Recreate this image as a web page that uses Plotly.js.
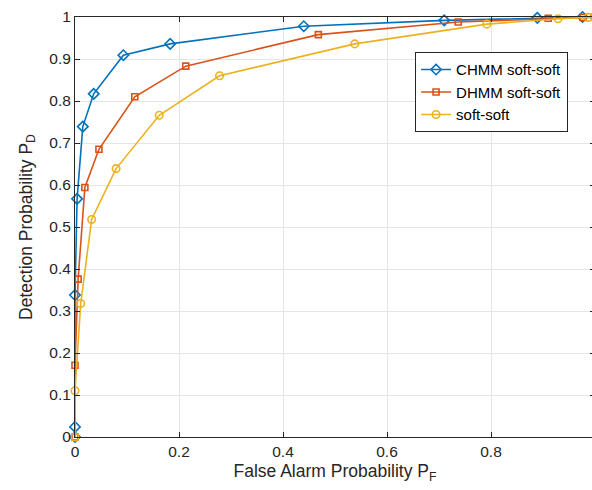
<!DOCTYPE html>
<html>
<head>
<meta charset="utf-8">
<script src="https://cdn.plot.ly/plotly-3.0.1.min.js"></script>
<style>
html, body { margin: 0; padding: 0; background: #fff; }
#wrap { width: 592px; height: 490px; overflow: hidden; position: relative; }
#chart { width: 600px; height: 490px; }
</style>
</head>
<body>
<div id="wrap"><div id="chart"></div></div>
<script>
// Data
const seriesNames = ["CHMM soft-soft", "DHMM soft-soft", "soft-soft"];
const chmmPf = [0, 0, 0, 0.004, 0.015, 0.036, 0.093, 0.183, 0.440, 0.710, 0.889, 0.976, 1.0];
const chmmPd = [0, 0.024, 0.338, 0.567, 0.739, 0.817, 0.909, 0.936, 0.978, 0.992, 0.998, 1.0, 1.0];
const dhmmPf = [0, 0, 0.006, 0.019, 0.046, 0.115, 0.213, 0.468, 0.737, 0.910, 0.977, 1.0];
const dhmmPd = [0, 0.171, 0.376, 0.594, 0.685, 0.810, 0.883, 0.958, 0.988, 0.997, 0.999, 1.0];
const softPf = [0, 0, 0.011, 0.032, 0.079, 0.162, 0.278, 0.538, 0.792, 0.929, 0.987, 1.0];
const softPd = [0, 0.110, 0.318, 0.518, 0.639, 0.766, 0.860, 0.936, 0.983, 0.996, 0.999, 1.0];
const xTicks = [0, 0.2, 0.4, 0.6, 0.8];
const xTickText = ["0", "0.2", "0.4", "0.6", "0.8"];
const yTicks = [0, 0.1, 0.2, 0.3, 0.4, 0.5, 0.6, 0.7, 0.8, 0.9, 1];
const yTickText = ["0", "0.1", "0.2", "0.3", "0.4", "0.5", "0.6", "0.7", "0.8", "0.9", "1"];

const colors = ["#0072BD", "#D95319", "#EDB120"];
const font = "Liberation Sans, Arial, Helvetica, sans-serif";

const traces = [
  {x: chmmPf, y: chmmPd, name: seriesNames[0], mode: "lines+markers", cliponaxis: false,
   line: {color: colors[0], width: 1.6},
   marker: {symbol: "diamond-open", size: 8, color: colors[0], line: {width: 1.6, color: colors[0]}}},
  {x: dhmmPf, y: dhmmPd, name: seriesNames[1], mode: "lines+markers", cliponaxis: false,
   line: {color: colors[1], width: 1.6},
   marker: {symbol: "square-open", size: 6, color: colors[1], line: {width: 1.6, color: colors[1]}}},
  {x: softPf, y: softPd, name: seriesNames[2], mode: "lines+markers", cliponaxis: false,
   line: {color: colors[2], width: 1.6},
   marker: {symbol: "circle-open", size: 7.5, color: colors[2], line: {width: 1.6, color: colors[2]}}}
];

const layout = {
  width: 600, height: 490,
  margin: {l: 75, r: 5, t: 17, b: 53},
  paper_bgcolor: "#fff", plot_bgcolor: "#fff",
  font: {family: font, size: 15.5, color: "#262626"},
  showlegend: true,
  legend: {
    x: 0.654, y: 0.916, xanchor: "left", yanchor: "top",
    bgcolor: "#fff", bordercolor: "#262626", borderwidth: 1,
    font: {family: font, size: 15, color: "#000"},
    tracegroupgap: 0
  },
  xaxis: {
    range: [0, 1], tickvals: xTicks, ticktext: xTickText,
    ticks: "inside", ticklen: 5, tickcolor: "#262626",
    showline: true, linecolor: "#262626", linewidth: 1, mirror: "ticks",
    showgrid: true, gridcolor: "#e5e5e5", gridwidth: 1, zeroline: false,
    tickfont: {size: 15.5, color: "#262626"},
    title: {text: "False Alarm Probability P<sub>F</sub>", font: {size: 17.5, color: "#262626"}, standoff: 6}
  },
  yaxis: {
    range: [0, 1], tickvals: yTicks, ticktext: yTickText,
    ticks: "inside", ticklen: 5, tickcolor: "#262626",
    showline: true, linecolor: "#262626", linewidth: 1, mirror: "ticks",
    showgrid: true, gridcolor: "#e5e5e5", gridwidth: 1, zeroline: false,
    tickfont: {size: 15.5, color: "#262626"},
    title: {text: "Detection Probability P<sub>D</sub>", font: {size: 17.5, color: "#262626"}, standoff: 12}
  }
};

Plotly.newPlot("chart", traces, layout, {displayModeBar: false, staticPlot: true});
</script>
</body>
</html>
